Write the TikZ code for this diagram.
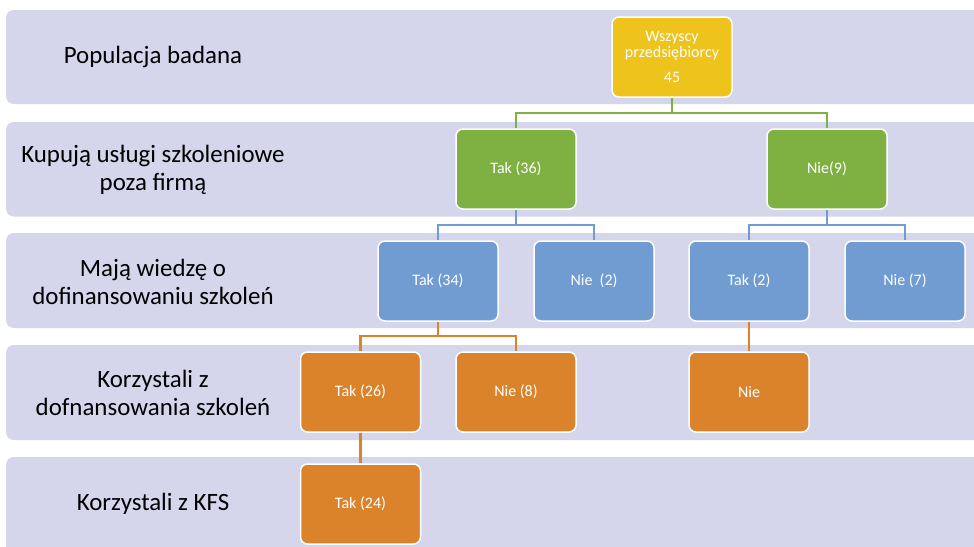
\documentclass[tikz,border=0pt]{standalone}
\usepackage{fontspec}
\setmainfont{Carlito}
\definecolor{bandc}{RGB}{213,214,236}
\definecolor{yel}{RGB}{237,195,28}
\definecolor{grn}{RGB}{127,177,66}
\definecolor{blu}{RGB}{112,156,210}
\definecolor{org}{RGB}{219,131,43}
\tikzset{
  band/.style={fill=bandc, rounded corners=8pt},
  lbl/.style={align=center, text=black, font=\fontsize{24.9}{27.5}\selectfont},
  box/.style={rectangle, rounded corners=7pt, draw=white, line width=1.5pt,
    minimum width=120pt, minimum height=80pt, inner sep=2pt, align=center,
    text=white, font=\fontsize{16}{16}\selectfont},
  ybox/.style={box, fill=yel},
  gbox/.style={box, fill=grn},
  bbox/.style={box, fill=blu},
  obox/.style={box, fill=org},
  gline/.style={draw=grn, line width=2pt},
  bline/.style={draw=blu, line width=2pt},
  oline/.style={draw=org, line width=2.2pt},
}
\begin{document}
\begin{tikzpicture}[x=1pt, y=-1pt]
\clip (0,0) rectangle (974,546);
\fill[white] (0,0) rectangle (974,546);
% bands
\fill[band] (6,10) rectangle (990,104);
\fill[band] (6,122) rectangle (990,216.5);
\fill[band] (6,233) rectangle (990,328);
\fill[band] (6,345) rectangle (990,440);
\fill[band] (6,457) rectangle (990,560);
% labels
\node[lbl] (l1) at (153,57) {Populacja badana};
\node[lbl] (l2) at (153,170) {Kupują usługi szkoleniowe\\poza firmą};
\node[lbl] (l3) at (153,282) {Mają wiedzę o\\dofinansowaniu szkoleń};
\node[lbl] (l4) at (153,393) {Korzystali z\\dofnansowania szkoleń};
\node[lbl] (l5) at (153,504) {Korzystali z KFS};
% boxes
\node[ybox] (root) at (672,57) {Wszyscy\\przedsiębiorcy\\[9pt]45};
\node[gbox] (t36) at (516,169) {Tak (36)};
\node[gbox] (n9) at (827,169) {Nie(9)};
\node[bbox] (t34) at (438,281) {Tak (34)};
\node[bbox] (n2) at (594,281) {Nie\ \ (2)};
\node[bbox] (t2) at (749,281) {Tak (2)};
\node[bbox] (n7) at (905,281) {Nie (7)};
\node[obox] (t26) at (360.5,392) {Tak (26)};
\node[obox] (n8) at (516,392) {Nie (8)};
\node[obox] (nie) at (749,392) {Nie};
\node[obox] (t24) at (360.5,504) {Tak (24)};
% connectors
\draw[gline] (root.south) -- (root.south |- 0,113);
\draw[gline] (t36.north) |- (root.south |- 0,113) -| (n9.north);
\draw[bline] (t36.south) -- (t36.south |- 0,225);
\draw[bline] (t34.north) |- (t36.south |- 0,225) -| (n2.north);
\draw[bline] (n9.south) -- (n9.south |- 0,225);
\draw[bline] (t2.north) |- (n9.south |- 0,225) -| (n7.north);
\draw[oline] (t34.south) -- (t34.south |- 0,336);
\draw[oline] (t26.north) |- (t34.south |- 0,336) -| (n8.north);
\draw[oline] (t2.south) -- (nie.north);
\draw[oline] (t26.south) -- (t24.north);
\end{tikzpicture}
\end{document}
